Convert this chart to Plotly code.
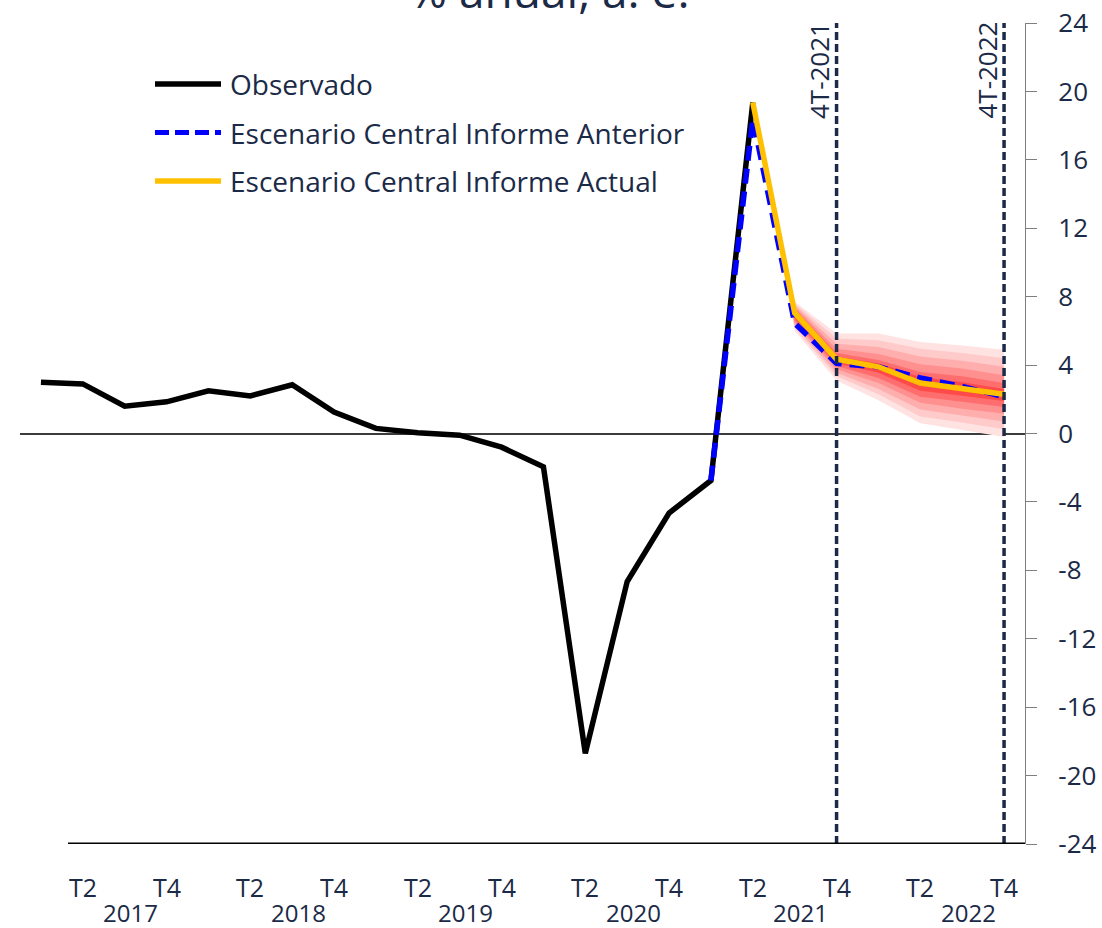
import plotly.graph_objects as go

# Quarterly axis 2017T1 .. 2022T4
years = [2017, 2018, 2019, 2020, 2021, 2022]
quarters = [f"{y}T{q}" for y in years for q in range(1, 5)]

# Observed annual growth (%), 2017T1 .. 2021T2
observado = [3.0, 2.9, 1.6, 1.85, 2.5, 2.2, 2.85, 1.25,
             0.3, 0.05, -0.1, -0.8, -1.95, -18.7, -8.65, -4.65,
             -2.75, 19.35]

# Previous report central scenario, 2021T1 .. 2022T4
anterior_x = quarters[16:]
anterior = [-2.75, 18.4, 6.45, 4.1, 3.9, 3.25, 2.75, 2.15]

# Current report central scenario, 2021T2 .. 2022T4
actual_x = quarters[17:]
actual = [19.35, 7.05, 4.35, 3.9, 2.95, 2.65, 2.3]

# Fan chart bands around the current scenario (outer to inner), 2021T2 .. 2022T4
fan_upper = [
    [19.35, 7.7, 5.85, 5.85, 5.35, 5.15, 4.9],
    [19.35, 7.6, 5.55, 5.45, 4.95, 4.7, 4.4],
    [19.35, 7.5, 5.25, 5.05, 4.5, 4.25, 3.9],
    [19.35, 7.4, 4.95, 4.65, 4.05, 3.8, 3.4],
    [19.35, 7.3, 4.7, 4.3, 3.6, 3.35, 2.95],
    [19.35, 7.2, 4.5, 4.1, 3.3, 3.0, 2.6],
]
fan_lower = [
    [19.35, 6.0, 3.1, 1.95, 0.6, 0.2, -0.2],
    [19.35, 6.15, 3.35, 2.3, 1.0, 0.65, 0.25],
    [19.35, 6.3, 3.55, 2.6, 1.4, 1.05, 0.7],
    [19.35, 6.45, 3.75, 2.95, 1.8, 1.45, 1.15],
    [19.35, 6.6, 3.95, 3.25, 2.15, 1.85, 1.55],
    [19.35, 6.75, 4.1, 3.55, 2.5, 2.2, 1.9],
]
fan_colors = ["#FFE2E2", "#FFCACA", "#FFAEAE", "#FF9090", "#FF6E6E", "#FF4A4A"]

y_ticks = list(range(-24, 25, 4))
y_ticktext = [str(v) for v in y_ticks]  # plain hyphen minus

marker_quarters = ["2021T4", "2022T4"]
marker_labels = ["4T-2021", "4T-2022"]

legend_names = ["Observado", "Escenario Central Informe Anterior",
                "Escenario Central Informe Actual"]

NAVY = "#1B2A47"
FONT = "Open Sans"

W, H = 1102, 928
ML, MR, MT, MB = 20, 77, 23, 84
PW = W - ML - MR
PH = H - MT - MB


def px(x):
    return (x - ML) / PW


def py(y):
    return (H - MB - y) / PH


fig = go.Figure()

# fan chart
for up, lo, col in zip(fan_upper, fan_lower, fan_colors):
    fig.add_trace(go.Scatter(
        x=actual_x + actual_x[::-1], y=up + lo[::-1],
        fill="toself", fillcolor=col, line=dict(width=0),
        mode="lines", hoverinfo="skip", showlegend=False))

fig.add_trace(go.Scatter(
    x=quarters[:len(observado)], y=observado, mode="lines",
    line=dict(color="black", width=5.5), name=legend_names[0], showlegend=False))
fig.add_trace(go.Scatter(
    x=anterior_x, y=anterior, mode="lines",
    line=dict(color="#0000FF", width=5.5, dash="15px,8px"),
    name=legend_names[1], showlegend=False))
fig.add_trace(go.Scatter(
    x=actual_x, y=actual, mode="lines",
    line=dict(color="#FFC000", width=5.5), name=legend_names[2], showlegend=False))

shapes = []
annotations = []

# forecast horizon markers
for q, lab in zip(marker_quarters, marker_labels):
    shapes.append(dict(type="line", xref="x", yref="paper", x0=q, x1=q, y0=0, y1=1,
                       line=dict(color=NAVY, width=3.5, dash="8px,4px"), layer="above"))
    annotations.append(dict(x=q, y=1, xref="x", yref="paper", text=lab, textangle=-90,
                            showarrow=False, xanchor="center", yanchor="top",
                            xshift=-18, yshift=3,
                            font=dict(family=FONT, size=26, color=NAVY)))

# baseline at the bottom of the plot
shapes.append(dict(type="line", xref="paper", yref="y", x0=px(68), x1=1, y0=-24, y1=-24,
                   line=dict(color="black", width=3), layer="above"))

# legend
leg_styles = [dict(color="black", width=5.5),
              dict(color="#0000FF", width=5, dash="14px,6px"),
              dict(color="#FFC000", width=5.5)]
for i, (name, st) in enumerate(zip(legend_names, leg_styles)):
    yy = 84 + i * 48.5
    shapes.append(dict(type="line", xref="paper", yref="paper", x0=px(155), x1=px(221),
                       y0=py(yy), y1=py(yy), line=st))
    annotations.append(dict(x=px(228), y=py(yy), xref="paper", yref="paper", text=name,
                            showarrow=False, xanchor="left", yanchor="middle",
                            font=dict(family=FONT, size=28, color=NAVY)))

# quarter and year labels
for i, q in enumerate(quarters):
    qn = q[-2:]
    if qn in ("T2", "T4"):
        annotations.append(dict(x=i, y=0, xref="x", yref="paper", text=qn, showarrow=False,
                                xanchor="center", yanchor="top", yshift=-24,
                                font=dict(family=FONT, size=25, color=NAVY)))
for k, yr in enumerate(years):
    annotations.append(dict(x=4 * k + 2.15, y=0, xref="x", yref="paper", text=str(yr),
                            showarrow=False, xanchor="center", yanchor="top", yshift=-50,
                            font=dict(family=FONT, size=24, color=NAVY)))

# title
annotations.append(dict(x=px(549), y=1, xref="paper", yref="paper", text="% anual, a. e.",
                        showarrow=False, xanchor="center", yanchor="bottom", yshift=0,
                        font=dict(family=FONT, size=46, color=NAVY)))

fig.update_layout(
    width=W, height=H,
    margin=dict(l=ML, r=MR, t=MT, b=MB, pad=0, autoexpand=False),
    paper_bgcolor="white", plot_bgcolor="white",
    showlegend=False,
    shapes=shapes, annotations=annotations,
    xaxis=dict(type="category", categoryorder="array", categoryarray=quarters,
               range=[-0.5, 23.5], showticklabels=False, showgrid=False,
               zeroline=False, showline=False, ticks="", automargin=False),
    yaxis=dict(side="right", range=[-24, 24], tickvals=y_ticks, ticktext=y_ticktext,
               showgrid=False, zeroline=True, zerolinecolor="#3C3C3C", zerolinewidth=1.5,
               showline=True, linecolor="#7F7F7F", linewidth=1.2,
               ticks="outside", ticklen=11, tickcolor="#7F7F7F", tickwidth=1.2,
               ticklabelstandoff=16, automargin=False,
               tickfont=dict(family=FONT, size=26, color=NAVY)),
)

fig.write_html("out.html")
